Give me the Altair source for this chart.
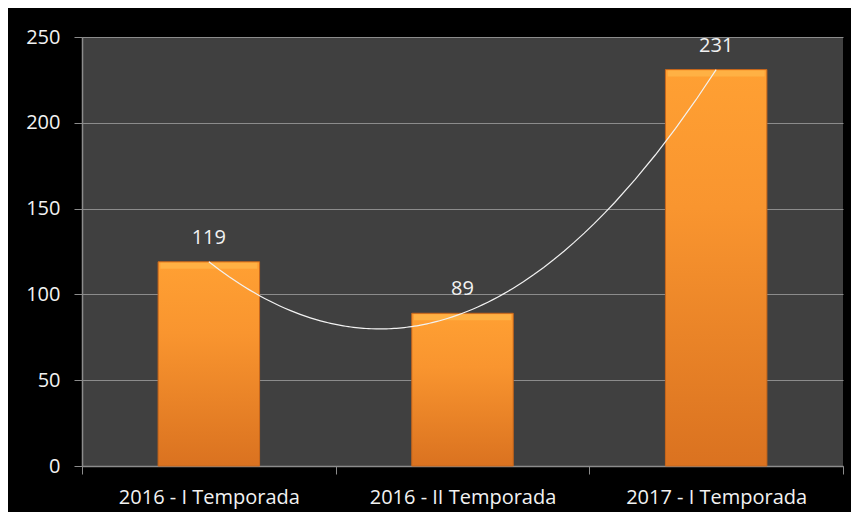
import altair as alt
import pandas as pd

categories = ["2016 - I Temporada", "2016 - II Temporada", "2017 - I Temporada"]
values = [119, 89, 231]
y_ticks = [0, 50, 100, 150, 200, 250]

df = pd.DataFrame({"cat": categories, "v": values, "i": list(range(len(categories)))})

FONT = "Open Sans"
W, H = 761, 429

xband = alt.X("cat:N", sort=categories, title=None,
              scale=alt.Scale(paddingInner=0, paddingOuter=0),
              axis=alt.Axis(labelAngle=0, labelColor="#F2F2F2", labelFontSize=20,
                            labelFont=FONT, labelPadding=13, labelLimit=400,
                            tickBand="extent",
                            tickColor="#8C8C8C", tickSize=8, domainColor="#8C8C8C",
                            domainWidth=1.5, grid=False))
yq = alt.Y("v:Q", title=None,
           scale=alt.Scale(domain=[0, 250], nice=False),
           axis=alt.Axis(values=y_ticks, labelColor="#F2F2F2", labelFontSize=20,
                         labelFont=FONT, labelPadding=14, tickColor="#8C8C8C",
                         tickSize=8, domainColor="#8C8C8C", domainWidth=1.5,
                         gridColor="#8C8C8C", gridWidth=1.2))

bars = alt.Chart(df).mark_bar(
    width=alt.RelativeBandSize(0.4),
    color=alt.Gradient(gradient="linear", x1=0, y1=0, x2=0, y2=1,
                       stops=[alt.GradientStop(color="#FFA033", offset=0),
                              alt.GradientStop(color="#F9952F", offset=0.35),
                              alt.GradientStop(color="#DA7220", offset=1)]),
    stroke="#C8661A", strokeWidth=1
).encode(x=xband, y=yq)

bevel = alt.Chart(df).mark_tick(size=97, thickness=6, yOffset=4, color="#FFB548",
                                opacity=0.8).encode(
    x=alt.X("cat:N", sort=categories), y="v:Q")

labels = alt.Chart(df).mark_text(dy=-24, fontSize=20, font=FONT, color="#F2F2F2").encode(
    x=alt.X("cat:N", sort=categories), y="v:Q", text="v:Q")

base = alt.layer(bars, bevel, labels)

trend = alt.Chart(df).transform_regression(
    "i", "v", method="poly", order=2, extent=[0, 2]
).mark_line(color="#F2F2F2", strokeWidth=1.2).encode(
    x=alt.X("i:Q", scale=alt.Scale(domain=[-0.5, 2.5], nice=False, zero=False), axis=None),
    y=alt.Y("v:Q"))

chart = alt.layer(base, trend).resolve_scale(x="independent").properties(
    width=W, height=H,
    background="#000000",
    padding={"left": 74, "top": 29, "right": 8, "bottom": 46},
    autosize=alt.AutoSizeParams(type="none"),
).configure_view(fill="#404040", stroke=None)

chart.save("out.html", embed_options={"renderer": "svg", "actions": False})
